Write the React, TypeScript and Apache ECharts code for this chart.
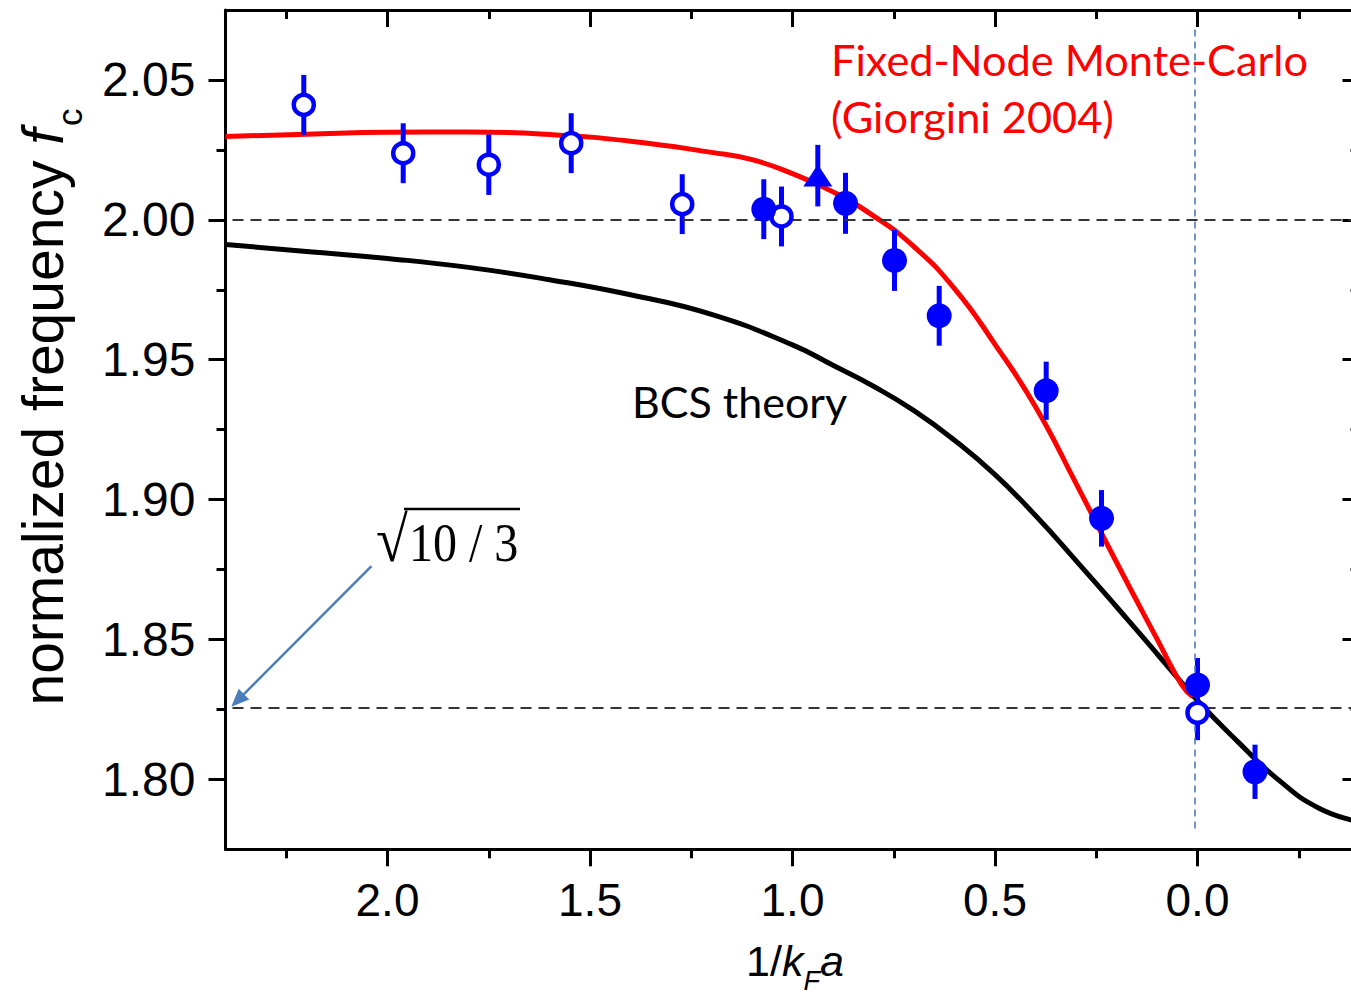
import React, { useEffect, useRef } from "react";
import * as echarts from "echarts";

// ---- axis ticks ----
const xMajorTicks = [0, 0.5, 1.0, 1.5, 2.0];
const xMinorTicks = [-0.25, 0.25, 0.75, 1.25, 1.75, 2.25];
const yMajorTicks = [1.8, 1.85, 1.9, 1.95, 2.0, 2.05];
const yMinorTicks = [1.825, 1.875, 1.925, 1.975, 2.025];

// ---- theory curves (x = 1/kFa, y = fc) ----
const fnmcCurve: [number, number][] = [
  [2.4, 2.0298], [2.2, 2.0306], [2.0, 2.0313], [1.8, 2.0314], [1.6, 2.0305],
  [1.4, 2.0281], [1.2, 2.0241], [1.1, 2.0215], [1.0, 2.0165], [0.9, 2.0100],
  [0.8, 2.0014], [0.7, 1.9904], [0.6, 1.9754], [0.5, 1.9555], [0.4, 1.9332],
  [0.3, 1.9058], [0.2, 1.8776], [0.1, 1.8502], [0.04, 1.8340], [0.012, 1.8295],
];
const bcsCurve: [number, number][] = [
  [2.4, 1.9912], [2.2, 1.9887], [2.0, 1.9862], [1.8, 1.9830], [1.6, 1.9786],
  [1.4, 1.9732], [1.2, 1.9662], [1.0, 1.9553], [0.9, 1.9480], [0.8, 1.9405],
  [0.7, 1.9318], [0.6, 1.9212], [0.5, 1.9089], [0.4, 1.8943], [0.3, 1.8782],
  [0.2, 1.8617], [0.1, 1.8449], [0.0, 1.8282], [-0.1, 1.8134], [-0.2, 1.7998],
  [-0.3, 1.7897], [-0.4, 1.7848],
];

// ---- experimental points ----
const openX = [2.2067, 1.9612, 1.7499, 1.5464, 1.2723, 1.0272, 0.0];
const openY = [2.0411, 2.0238, 2.0197, 2.0274, 2.0056, 2.0012, 1.8238];
const openErr = [0.0107, 0.0107, 0.0108, 0.0107, 0.0107, 0.0107, 0.0098];

const filledX = [1.0709, 0.8691, 0.7481, 0.6378, 0.3736, 0.237, 0.0, -0.142];
const filledY = [2.0038, 2.0059, 1.9855, 1.9657, 1.9389, 1.8933, 1.8337, 1.8027];
const filledErr = [0.0107, 0.0109, 0.0109, 0.0107, 0.0104, 0.0101, 0.0097, 0.0097];

const triX = [0.9375];
const triY = [2.0158];
const triErr = [0.011];

// reference levels
const refLevels = [2.0, 1.8257]; // 2 and sqrt(10/3)
const unitaryLine: [number, number][] = [[0.007, 2.068], [0.007, 1.782]];
const arrowLine: [number, number][] = [[2.0396, 1.8762], [2.37, 1.8282]];

const FONT = "'Liberation Sans', Arial, sans-serif";
const CAL = "Lato, 'Open Sans', sans-serif";
const SERIF = "'Liberation Serif', 'Times New Roman', serif";

export default function App() {
  const ref = useRef<HTMLDivElement>(null);

  useEffect(() => {
    if (!ref.current) return;
    const chart = echarts.init(ref.current, undefined, { renderer: "svg" });

    const lineSt = { color: "#000", width: 3 };
    const xBase: any = {
      type: "value", min: -0.4, max: 2.4, inverse: true, gridIndex: 0,
      splitLine: { show: false },
    };
    const yBase: any = {
      type: "value", min: 1.775, max: 2.075, gridIndex: 0,
      splitLine: { show: false },
    };
    const tick = (vals: number[], len: number, inside: boolean) => ({
      show: true, inside, length: len, customValues: vals,
      lineStyle: { color: "#000", width: 3 },
    });

    const errBars: number[][] = [];
    openX.forEach((x, i) => errBars.push([x, openY[i] - openErr[i], openY[i] + openErr[i]]));
    filledX.forEach((x, i) => errBars.push([x, filledY[i] - filledErr[i], filledY[i] + filledErr[i]]));
    triX.forEach((x, i) => errBars.push([x, triY[i] - triErr[i], triY[i] + triErr[i]]));

    const option: any = {
      animation: false,
      backgroundColor: "#fff",
      grid: {
        left: 225.5, top: 10, width: 1134, height: 839.3,
        containLabel: false, outerBoundsMode: "none",
      },
      xAxis: [
        {
          ...xBase, position: "bottom",
          axisLine: { show: true, onZero: false, lineStyle: lineSt },
          axisTick: tick(xMajorTicks, 17, false),
          axisLabel: {
            show: true, customValues: xMajorTicks, margin: 28,
            formatter: (v: number) => v.toFixed(1),
            color: "#000", fontFamily: FONT, fontSize: 46,
          },
        },
        {
          ...xBase, position: "bottom",
          axisLine: { show: false, onZero: false },
          axisTick: tick(xMinorTicks, 9, false),
          axisLabel: { show: false },
        },
        {
          ...xBase, position: "top",
          axisLine: { show: true, onZero: false, lineStyle: lineSt },
          axisTick: tick(xMajorTicks, 17, true),
          axisLabel: { show: false },
        },
        {
          ...xBase, position: "top",
          axisLine: { show: false, onZero: false },
          axisTick: tick(xMinorTicks, 9, true),
          axisLabel: { show: false },
        },
      ],
      yAxis: [
        {
          ...yBase, position: "left",
          axisLine: { show: true, onZero: false, lineStyle: lineSt },
          axisTick: tick(yMajorTicks, 17, false),
          axisLabel: {
            show: true, customValues: yMajorTicks, margin: 30,
            formatter: (v: number) => v.toFixed(2),
            color: "#000", fontFamily: FONT, fontSize: 48,
          },
        },
        {
          ...yBase, position: "left",
          axisLine: { show: false, onZero: false },
          axisTick: tick(yMinorTicks, 9, false),
          axisLabel: { show: false },
        },
        {
          ...yBase, position: "right",
          axisLine: { show: true, onZero: false, lineStyle: lineSt },
          axisTick: tick(yMajorTicks, 17, true),
          axisLabel: { show: false },
        },
        {
          ...yBase, position: "right",
          axisLine: { show: false, onZero: false },
          axisTick: tick(yMinorTicks, 9, true),
          axisLabel: { show: false },
        },
      ],
      series: [
        {
          name: "BCS theory", type: "line", data: bcsCurve, smooth: 0.5,
          showSymbol: false, symbol: "none", z: 2, silent: true,
          lineStyle: { color: "#000", width: 5 },
          markLine: {
            silent: true, symbol: ["none", "none"], label: { show: false }, precision: 6,
            data: [
              { yAxis: refLevels[0], lineStyle: { type: [11, 7], color: "#333", width: 2 } },
              { yAxis: refLevels[1], lineStyle: { type: [11, 7], color: "#333", width: 2 } },
              [
                { coord: unitaryLine[0], lineStyle: { type: [7, 5], color: "#4a7ebb", width: 1.6 } },
                { coord: unitaryLine[1] },
              ],
            ],
          },
        },
        {
          name: "FN-MC", type: "line", data: fnmcCurve, smooth: 0.5,
          showSymbol: false, symbol: "none", z: 3, silent: true,
          lineStyle: { color: "#ff0000", width: 5 },
        },
        {
          name: "error bars", type: "custom", z: 4, silent: true,
          data: errBars, encode: { x: 0, y: [1, 2] },
          renderItem: (params: any, api: any) => {
            const x = api.value(0);
            const a = api.coord([x, api.value(1)]);
            const b = api.coord([x, api.value(2)]);
            return {
              type: "line",
              shape: { x1: a[0], y1: a[1], x2: b[0], y2: b[1] },
              style: { stroke: "#0000ff", lineWidth: 5 },
            };
          },
        },
        {
          name: "open", type: "scatter", z: 5, silent: true,
          data: openX.map((x, i) => [x, openY[i]]),
          symbol: "circle", symbolSize: 20,
          itemStyle: { color: "#fff", borderColor: "#0000ff", borderWidth: 4.5, opacity: 1 },
        },
        {
          name: "filled", type: "scatter", z: 5, silent: true,
          data: filledX.map((x, i) => [x, filledY[i]]),
          symbol: "circle", symbolSize: 25,
          itemStyle: { color: "#0000ff", opacity: 1 },
          markLine: {
            silent: true, symbol: ["none", "triangle"], symbolSize: [15, 18], precision: 6,
            label: { show: false },
            lineStyle: { type: "solid", color: "#4a7ebb", width: 2.5 },
            data: [[{ coord: arrowLine[0] }, { coord: arrowLine[1] }]],
          },
        },
        {
          name: "triangle", type: "scatter", z: 5, silent: true,
          data: triX.map((x, i) => [x, triY[i]]),
          symbol: "triangle", symbolSize: [29, 22],
          itemStyle: { color: "#0000ff", opacity: 1 },
        },
      ],
      graphic: [
        {
          type: "text", x: 43, y: 407, rotation: Math.PI / 2, silent: true,
          style: {
            text: "{a|normalized frequency }{f|f}{c|c}",
            align: "center", verticalAlign: "middle", fill: "#000",
            rich: {
              a: { fontFamily: FONT, fontSize: 57, fill: "#000", verticalAlign: "middle" },
              f: { fontFamily: FONT, fontSize: 57, fontStyle: "italic", fill: "#000", verticalAlign: "middle" },
              c: { fontFamily: FONT, fontSize: 35, fill: "#000", verticalAlign: "middle", padding: [52, 0, 0, 3] },
            },
          },
        },
        {
          type: "text", x: 795, y: 961, silent: true,
          style: {
            text: "{a|1/}{i|k}{s|F}{i|a}",
            align: "center", verticalAlign: "middle", fill: "#000",
            rich: {
              a: { fontFamily: FONT, fontSize: 43, fill: "#000", verticalAlign: "middle" },
              i: { fontFamily: FONT, fontSize: 43, fontStyle: "italic", fill: "#000", verticalAlign: "middle" },
              s: { fontFamily: FONT, fontSize: 27, fontStyle: "italic", fill: "#000", verticalAlign: "middle", padding: [40, 0, 0, 0] },
            },
          },
        },
        {
          type: "text", x: 831, y: 59, silent: true,
          style: { text: "Fixed-Node Monte-Carlo", fontFamily: CAL, fontSize: 43.3, fill: "#ff0000", align: "left", verticalAlign: "middle" },
        },
        {
          type: "text", x: 831, y: 116, silent: true,
          style: { text: "(Giorgini 2004)", fontFamily: CAL, fontSize: 43.3, fill: "#ff0000", align: "left", verticalAlign: "middle" },
        },
        {
          type: "text", x: 632, y: 401, silent: true,
          style: { text: "BCS theory", fontFamily: CAL, fontSize: 43, fill: "#000", align: "left", verticalAlign: "middle" },
        },
        {
          type: "text", x: 376, y: 540, silent: true, scaleY: 1.1,
          style: { text: "√", fontFamily: SERIF, fontSize: 58, fill: "#000", align: "left", verticalAlign: "middle" },
        },
        {
          type: "line", silent: true,
          shape: { x1: 404, y1: 509, x2: 520, y2: 509 },
          style: { stroke: "#000", lineWidth: 2.5 },
        },
        {
          type: "text", x: 409, y: 542, silent: true, scaleY: 1.16,
          style: { text: "10 / 3", fontFamily: SERIF, fontSize: 48, fill: "#000", align: "left", verticalAlign: "middle" },
        },
      ],
    };

    chart.setOption(option);
    return () => chart.dispose();
  }, []);

  return (
    <div style={{ position: "absolute", left: 0, top: 0, width: 1351, height: 997, overflow: "hidden", background: "#fff" }}>
      <div ref={ref} style={{ width: 1370, height: 997 }} />
    </div>
  );
}
